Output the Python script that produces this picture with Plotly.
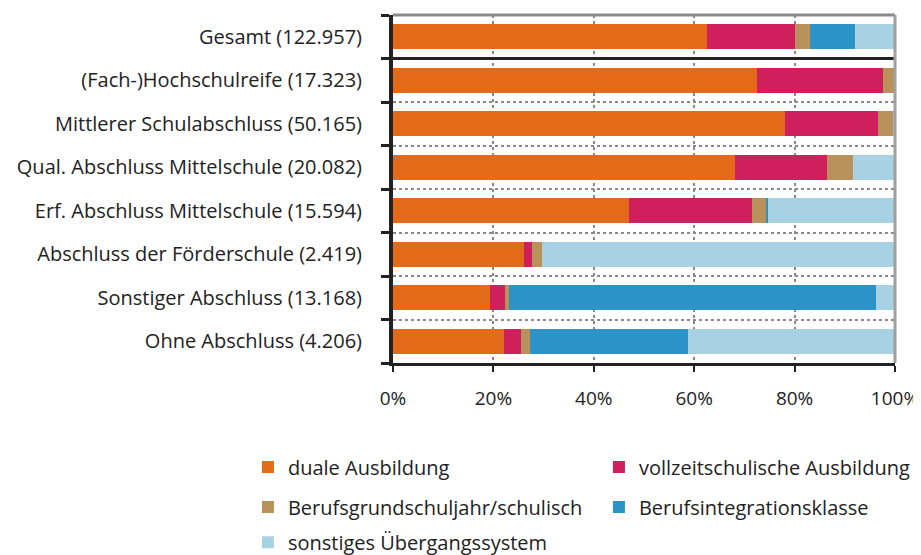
import plotly.graph_objects as go

categories = [
    "Gesamt (122.957)",
    "(Fach-)Hochschulreife (17.323)",
    "Mittlerer Schulabschluss (50.165)",
    "Qual. Abschluss Mittelschule (20.082)",
    "Erf. Abschluss Mittelschule (15.594)",
    "Abschluss der Förderschule (2.419)",
    "Sonstiger Abschluss (13.168)",
    "Ohne Abschluss (4.206)",
]

duale = [62.5, 72.6, 78.1, 68.2, 47.0, 26.0, 19.4, 22.1]
vollzeit = [17.5, 25.1, 18.6, 18.2, 24.6, 1.6, 2.9, 3.3]
bgj = [3.1, 2.3, 3.0, 5.2, 2.9, 2.0, 0.8, 1.9]
bik = [8.9, 0.0, 0.0, 0.0, 0.2, 0.0, 73.1, 31.5]
sonstiges = [8.0, 0.0, 0.3, 8.4, 25.3, 70.4, 3.8, 41.2]

x_ticks = [0, 20, 40, 60, 80, 100]
x_ticklabels = ["0%", "20%", "40%", "60%", "80%", "100%"]

series = [
    ("duale Ausbildung", duale, "#E36A19", "legend"),
    ("vollzeitschulische Ausbildung", vollzeit, "#D01F5D", "legend"),
    ("Berufsgrundschuljahr/schulisch", bgj, "#B9915B", "legend2"),
    ("Berufsintegrationsklasse", bik, "#2C93C9", "legend2"),
    ("sonstiges Übergangssystem", sonstiges, "#A8D1E4", "legend3"),
]

n = len(categories)
ypos = [n - 1 - i for i in range(n)]  # top category at highest position

FONT = "Open Sans"
DARK = "#222222"
FS = 20

fig = go.Figure()
for name, vals, color, lg in series:
    fig.add_trace(go.Bar(
        x=vals, y=ypos, orientation="h", name=name,
        marker=dict(color=color, line=dict(width=0)),
        legend=lg,
    ))

boundaries = [i - 0.5 for i in range(n + 1)]

leg_common = dict(orientation="h", xanchor="left", yanchor="middle",
                  entrywidth=306, entrywidthmode="pixels",
                  font=dict(size=FS, color=DARK), traceorder="normal",
                  bgcolor="rgba(0,0,0,0)")

fig.update_layout(
    width=913, height=547,
    margin=dict(l=385, r=26, t=7, b=192, autoexpand=False),
    barmode="stack", bargap=0.42,
    plot_bgcolor="white", paper_bgcolor="white",
    font=dict(family=FONT, size=FS, color=DARK),
    xaxis=dict(
        range=[0, 100], tickmode="array", tickvals=x_ticks, ticktext=x_ticklabels,
        showgrid=True, gridcolor="#8a8a8a", griddash="dot", gridwidth=1.5,
        showline=True, linecolor=DARK, linewidth=3,
        ticks="outside", ticklen=6, tickwidth=2, tickcolor=DARK,
        ticklabelstandoff=10,
        zeroline=False, tickfont=dict(size=19, color=DARK),
    ),
    yaxis=dict(
        range=[-0.5, n - 0.5], tickmode="array", tickvals=ypos, ticktext=categories,
        showgrid=False, zeroline=False,
        showline=True, linecolor=DARK, linewidth=4,
        ticks="", ticklabelstandoff=23,
        tickfont=dict(size=FS, color=DARK),
        minor=dict(
            tickvals=boundaries, ticks="outside", ticklen=8, tickwidth=3,
            tickcolor=DARK, showgrid=True, gridcolor="#8a8a8a",
            griddash="dot", gridwidth=1.5,
        ),
    ),
    showlegend=True,
    legend=dict(x=-0.289, y=-0.299, **leg_common),
    legend2=dict(x=-0.289, y=-0.414, **leg_common),
    legend3=dict(x=-0.289, y=-0.515, **leg_common),
    shapes=[
        dict(type="line", xref="paper", yref="y", x0=-0.016, x1=1.0, y0=n - 1.5, y1=n - 1.5,
             line=dict(color=DARK, width=3), layer="above"),
        dict(type="line", xref="paper", yref="paper", x0=0, x1=1, y0=1, y1=1,
             line=dict(color="#8a8a8a", width=3), layer="above"),
        dict(type="line", xref="paper", yref="paper", x0=1, x1=1, y0=0, y1=1,
             line=dict(color="#a0a0a0", width=3), layer="above"),
    ],
)

fig.write_html("out.html")
